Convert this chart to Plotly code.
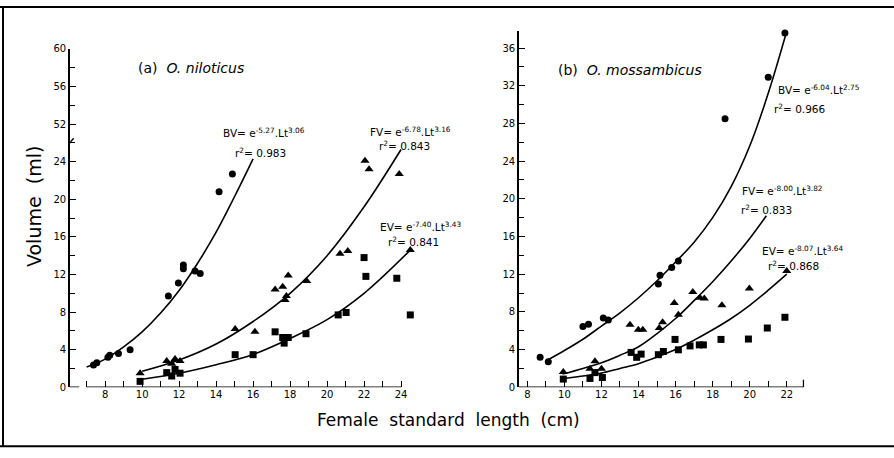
import plotly.graph_objects as go

# ---------------- data: panel (a) O. niloticus ----------------
a_bv_x = [7.37, 7.55, 8.15, 8.25, 8.72, 9.35, 11.42, 11.96, 12.23, 12.23, 12.86, 13.14, 14.16, 14.88]
a_bv_y = [2.36, 2.6, 3.2, 3.4, 3.6, 4.0, 9.7, 11.1, 13.0, 12.6, 12.36, 12.1, 20.8, 22.7]
a_fv_x = [9.89, 11.33, 11.6, 11.78, 12.05, 15.03, 16.1, 17.19, 17.6, 17.9, 17.73, 17.8, 18.9, 20.7, 21.12, 22.05, 22.27, 23.9, 24.5]
a_fv_y = [1.5, 2.8, 2.5, 3.0, 2.8, 6.2, 5.9, 10.4, 10.7, 11.9, 9.3, 9.7, 11.3, 14.2, 14.5, 24.1, 23.2, 22.7, 14.6]
a_ev_x = [9.89, 11.33, 11.6, 11.78, 12.05, 15.03, 16.0, 17.19, 17.6, 17.68, 17.9, 18.86, 20.6, 21.03, 22.0, 22.1, 23.77, 24.5]
a_ev_y = [0.63, 1.56, 1.2, 1.9, 1.5, 3.47, 3.47, 5.9, 5.3, 4.7, 5.3, 5.7, 7.7, 7.96, 13.8, 11.8, 11.6, 7.7]

# fitted curves
a_bv_cx = [7, 8, 9, 10, 11, 12, 13, 14, 15, 16]
a_bv_cy = [2.15, 3.0, 4.3, 5.9, 7.9, 10.3, 13.2, 16.5, 20.3, 24.3]
a_fv_cx = [10, 12, 14, 16, 18, 20, 22, 24]
a_fv_cy = [1.7, 2.9, 4.6, 7.0, 10.0, 14.0, 19.2, 25.3]
a_ev_cx = [10, 12, 14, 16, 18, 20, 22, 24.5]
a_ev_cy = [0.85, 1.5, 2.4, 3.5, 5.2, 7.2, 10.0, 14.6]

# ---------------- data: panel (b) O. mossambicus ----------------
b_bv_x = [8.69, 9.13, 11.0, 11.3, 12.1, 12.37, 15.07, 15.16, 15.79, 16.15, 18.67, 21.0, 21.9]
b_bv_y = [3.18, 2.7, 6.46, 6.7, 7.36, 7.15, 10.95, 11.9, 12.7, 13.4, 28.5, 32.9, 37.6]
b_fv_x = [9.94, 11.38, 11.65, 12.0, 13.54, 13.99, 14.23, 15.12, 15.3, 15.93, 16.15, 16.93, 17.32, 17.55, 18.5, 19.98, 22.0]
b_fv_y = [1.63, 1.97, 2.77, 1.97, 6.63, 6.1, 6.1, 6.3, 6.9, 8.95, 7.7, 10.1, 9.5, 9.43, 8.7, 10.47, 12.33]
b_ev_x = [9.94, 11.38, 11.65, 12.05, 13.6, 13.9, 14.14, 15.07, 15.34, 15.97, 16.15, 16.78, 17.28, 17.5, 18.45, 19.93, 20.95, 21.9]
b_ev_y = [0.87, 0.94, 1.56, 1.04, 3.7, 3.18, 3.52, 3.46, 3.8, 5.08, 3.98, 4.39, 4.5, 4.5, 5.08, 5.12, 6.29, 7.43]

b_bv_cx = [9.05, 10, 11, 12, 13, 14, 15, 16, 17, 18, 19, 20, 21, 22]
b_bv_cy = [2.84, 3.9, 5.1, 6.5, 7.9, 9.5, 11.3, 13.3, 15.4, 18.0, 21.3, 25.6, 31.2, 37.8]
b_fv_cx = [9.9, 11, 12, 13, 14, 15, 16, 17, 18, 19, 20, 20.9]
b_fv_cy = [1.4, 2.0, 2.6, 3.4, 4.3, 5.7, 7.3, 9.2, 11.2, 13.4, 15.8, 18.2]
b_ev_cx = [9.9, 11, 12, 13, 14, 15, 16, 17, 18, 19, 20, 21, 22]
b_ev_cy = [0.9, 1.2, 1.5, 2.0, 2.5, 3.2, 4.0, 5.0, 6.1, 7.3, 8.7, 10.3, 12.0]

# tick labels
a_ytick_vals = [0, 4, 8, 12, 16, 20, 24, 28, 32, 36]
a_ytick_text = ["0", "4", "8", "12", "16", "20", "24", "52", "56", "60"]
b_ytick_vals = [0, 4, 8, 12, 16, 20, 24, 28, 32, 36]
a_xtick_vals = [8, 10, 12, 14, 16, 18, 20, 22, 24]
b_xtick_vals = [8, 10, 12, 14, 16, 18, 20, 22]

W, H = 894, 458
def px(x):
    return x / W
def py(y):
    return 1 - y / H

FONT = "DejaVu Sans"
fig = go.Figure()

def add_points(x, y, sym, size, xa, ya):
    fig.add_trace(go.Scatter(x=x, y=y, mode="markers", xaxis=xa, yaxis=ya,
                             marker=dict(symbol=sym, size=size, color="black"),
                             cliponaxis=False, showlegend=False, hoverinfo="skip"))

def add_curve(x, y, xa, ya):
    fig.add_trace(go.Scatter(x=x, y=y, mode="lines", xaxis=xa, yaxis=ya,
                             line=dict(color="black", width=1.6, shape="spline", smoothing=1.0),
                             showlegend=False, hoverinfo="skip"))

for cx, cy in [(a_bv_cx, a_bv_cy), (a_fv_cx, a_fv_cy), (a_ev_cx, a_ev_cy)]:
    add_curve(cx, cy, "x", "y")
add_points(a_bv_x, a_bv_y, "circle", 7, "x", "y")
add_points(a_fv_x, a_fv_y, "triangle-up", 8, "x", "y")
add_points(a_ev_x, a_ev_y, "square", 7, "x", "y")

for cx, cy in [(b_bv_cx, b_bv_cy), (b_fv_cx, b_fv_cy), (b_ev_cx, b_ev_cy)]:
    add_curve(cx, cy, "x2", "y2")
add_points(b_bv_x, b_bv_y, "circle", 7, "x2", "y2")
add_points(b_fv_x, b_fv_y, "triangle-up", 8, "x2", "y2")
add_points(b_ev_x, b_ev_y, "square", 7, "x2", "y2")

tickfont = dict(family=FONT, size=10, color="black")
common_x = dict(showgrid=False, zeroline=False, showline=False, ticks="inside", ticklen=6,
                tickwidth=1.3, tickcolor="black", tickfont=tickfont,
                minor=dict(dtick=1, ticks="inside", ticklen=6, tickwidth=1.3, tickcolor="black"))
common_y = dict(showgrid=False, zeroline=False, showline=True, linecolor="black", linewidth=1.6,
                ticks="inside", ticklen=6, tickwidth=1.3, tickcolor="black", tickfont=tickfont,
                minor=dict(dtick=2, ticks="inside", ticklen=5, tickwidth=1.2, tickcolor="black"))

fig.update_layout(
    width=W, height=H, margin=dict(l=0, r=0, t=0, b=0),
    paper_bgcolor="white", plot_bgcolor="white",
    xaxis=dict(domain=[px(70), px(414)], range=[6.1, 24.7], anchor="y",
               tickmode="array", tickvals=a_xtick_vals, **common_x),
    yaxis=dict(domain=[py(391.7), py(45)], range=[0, 36], anchor="x",
               tickmode="array", tickvals=a_ytick_vals, ticktext=a_ytick_text, **common_y),
    xaxis2=dict(domain=[px(519), px(805.3)], range=[7.55, 23.0], anchor="y2",
                tickmode="array", tickvals=b_xtick_vals, **common_x),
    yaxis2=dict(domain=[py(391.7), py(26.7)], range=[0, 37.8], anchor="x2",
                tickmode="array", tickvals=b_ytick_vals, **common_y),
)

shapes = []
# x-axis baselines
shapes.append(dict(type="line", xref="x", yref="y", x0=7, x1=24, y0=0, y1=0,
                   line=dict(color="black", width=1.6)))
shapes.append(dict(type="line", xref="x", yref="y", x0=6.1, x1=6.6, y0=0, y1=0,
                   line=dict(color="black", width=1.6)))
shapes.append(dict(type="line", xref="x2", yref="y2", x0=7.55, x1=22.9, y0=0, y1=0,
                   line=dict(color="black", width=1.6)))
shapes.append(dict(type="line", xref="x2", yref="y2", x0=22.9, x1=22.9, y0=0, y1=0.8,
                   line=dict(color="black", width=1.3)))
# axis break mark on panel (a)
shapes.append(dict(type="line", xref="x", yref="y", x0=5.95, x1=6.3, y0=25.7, y1=26.5,
                   line=dict(color="black", width=1.4)))
# outer frame
shapes.append(dict(type="line", xref="paper", yref="paper", x0=0, x1=1, y0=py(2), y1=py(2),
                   line=dict(color="black", width=2)))
shapes.append(dict(type="line", xref="paper", yref="paper", x0=px(3), x1=px(3), y0=py(2), y1=py(452),
                   line=dict(color="black", width=2)))
shapes.append(dict(type="line", xref="paper", yref="paper", x0=0, x1=1, y0=py(452), y1=py(452),
                   line=dict(color="black", width=2)))
fig.update_layout(shapes=shapes)

ann = []
def txt(x, y, s, size=10, xanchor="center", angle=0):
    ann.append(dict(x=px(x), y=py(y), xref="paper", yref="paper", text=s, showarrow=False,
                    xanchor=xanchor, yanchor="middle", textangle=angle,
                    font=dict(family=FONT, size=size, color="black")))

txt(34, 207, "Volume&nbsp;&nbsp;(ml)", size=19, angle=-90)
txt(448, 425, "Female&nbsp;&nbsp;standard&nbsp;&nbsp;length&nbsp;&nbsp;(cm)", size=17)
txt(136, 65, "(a)&nbsp;&nbsp;<i>O. niloticus</i>", size=14, xanchor="left")
txt(556, 67, "(b)&nbsp;&nbsp;<i>O. mossambicus</i>", size=14, xanchor="left")

txt(264, 131, "BV= e<sup>-5.27</sup>.Lt<sup>3.06</sup>", size=10.5)
txt(260, 151, "r<sup>2</sup>= 0.983", size=10.5)
txt(410, 130, "FV= e<sup>-6.78</sup>.Lt<sup>3.16</sup>", size=10.5)
txt(404, 144, "r<sup>2</sup>= 0.843", size=10.5)
txt(420, 227, "EV= e<sup>-7.40</sup>.Lt<sup>3.43</sup>", size=10.5)
txt(413, 242, "r<sup>2</sup>= 0.841", size=10.5)

txt(819, 87, "BV= e<sup>-6.04</sup>.Lt<sup>2.75</sup>", size=10.5)
txt(800, 106, "r<sup>2</sup>= 0.966", size=10.5)
txt(782, 190, "FV= e<sup>-8.00</sup>.Lt<sup>3.82</sup>", size=10.5)
txt(766, 210, "r<sup>2</sup>= 0.833", size=10.5)
txt(802, 252, "EV= e<sup>-8.07</sup>.Lt<sup>3.64</sup>", size=10.5)
txt(793, 267, "r<sup>2</sup>= 0.868", size=10.5)

fig.update_layout(annotations=ann)
fig.write_html("out.html", config={"displayModeBar": False},
               post_script="document.body.style.margin='0px';document.body.style.overflow='hidden';")
